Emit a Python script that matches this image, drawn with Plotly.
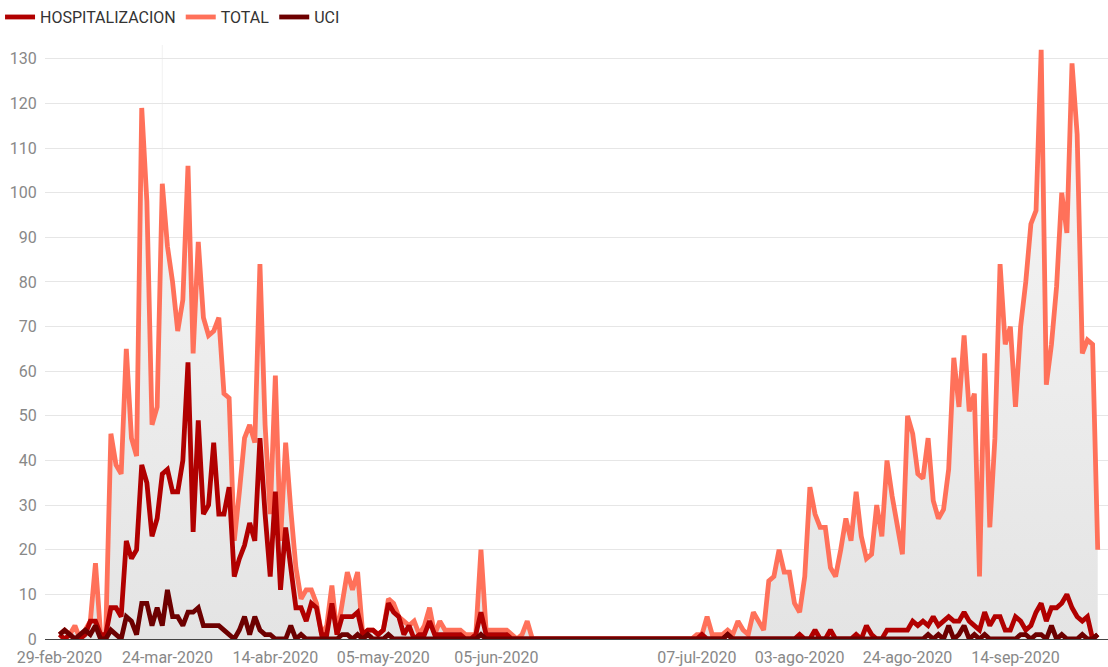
import plotly.graph_objects as go

# Daily rows (index = report row)
TOTAL = [
    1, 2, 1, 3, 0, 2, 4, 17, 1, 1,
    46, 39, 37, 65, 45, 41, 119, 98, 48, 52,
    102, 88, 80, 69, 76, 106, 64, 89, 72, 68,
    69, 72, 55, 54, 22, 33, 45, 48, 44, 84,
    48, 28, 59, 22, 44, 29, 16, 9, 11, 11,
    8, 1, 3, 12, 1, 8, 15, 11, 15, 1,
    2, 2, 1, 2, 9, 8, 5, 4, 3, 4,
    1, 3, 7, 1, 4, 2, 2, 2, 2, 1,
    1, 1, 20, 2, 2, 2, 2, 2, 1, 0,
    1, 4, 0, 0, 0, 0, 0, 0, 0, 0,
    0, 0, 0, 0, 0, 0, 0, 0, 0, 0,
    0, 0, 0, 0, 0, 0, 0, 0, 0, 0,
    0, 0, 0, 0, 1, 1, 5, 1, 1, 1,
    2, 1, 4, 2, 1, 6, 4, 2, 13, 14,
    20, 15, 15, 8, 6, 14, 34, 28, 25, 25,
    16, 14, 20, 27, 22, 33, 23, 18, 19, 30,
    23, 40, 32, 25, 19, 50, 46, 37, 36, 45,
    31, 27, 29, 38, 63, 52, 68, 51, 55, 14,
    64, 25, 45, 84, 66, 70, 52, 70, 80, 93,
    96, 132, 57, 66, 79, 100, 91, 129, 113, 64,
    67, 66, 20,
]

HOSPITALIZACION = [
    1, 0, 1, 0, 0, 1, 4, 4, 1, 1,
    7, 7, 5, 22, 18, 20, 39, 35, 23, 27,
    37, 38, 33, 33, 40, 62, 24, 49, 28, 30,
    44, 28, 28, 34, 14, 18, 21, 26, 22, 45,
    28, 14, 33, 11, 25, 15, 7, 7, 4, 8,
    7, 1, 1, 8, 1, 5, 5, 5, 6, 1,
    2, 2, 1, 2, 8, 6, 5, 1, 3, 0,
    1, 1, 4, 1, 1, 1, 1, 1, 1, 0,
    0, 1, 6, 1, 1, 1, 1, 1, 0, 0,
    0, 0, 0, 0, 0, 0, 0, 0, 0, 0,
    0, 0, 0, 0, 0, 0, 0, 0, 0, 0,
    0, 0, 0, 0, 0, 0, 0, 0, 0, 0,
    0, 0, 0, 0, 0, 1, 0, 0, 0, 0,
    1, 0, 0, 0, 0, 0, 0, 0, 0, 0,
    0, 0, 0, 0, 1, 0, 0, 2, 0, 0,
    2, 0, 0, 0, 0, 1, 0, 3, 1, 0,
    0, 2, 2, 2, 2, 2, 4, 3, 4, 3,
    5, 3, 4, 5, 4, 4, 6, 4, 3, 2,
    6, 3, 5, 5, 2, 2, 5, 4, 2, 3,
    6, 8, 4, 7, 7, 8, 10, 7, 5, 4,
    5, 0, 1,
]

UCI = [
    1, 2, 1, 0, 1, 2, 1, 3, 0, 0,
    2, 1, 0, 5, 4, 1, 8, 8, 3, 7,
    3, 11, 5, 5, 3, 6, 6, 7, 3, 3,
    3, 3, 2, 1, 0, 2, 5, 1, 5, 2,
    1, 1, 0, 0, 0, 3, 0, 1, 0, 0,
    0, 0, 0, 0, 0, 1, 1, 0, 1, 0,
    1, 0, 0, 0, 1, 0, 0, 0, 0, 0,
    0, 0, 0, 0, 0, 0, 0, 0, 0, 0,
    0, 0, 1, 0, 0, 0, 0, 0, 0, 0,
    0, 0, 0, 0, 0, 0, 0, 0, 0, 0,
    0, 0, 0, 0, 0, 0, 0, 0, 0, 0,
    0, 0, 0, 0, 0, 0, 0, 0, 0, 0,
    0, 0, 0, 0, 0, 0, 0, 0, 0, 0,
    1, 0, 0, 0, 0, 0, 0, 0, 0, 0,
    0, 0, 0, 0, 0, 0, 0, 0, 0, 0,
    0, 0, 0, 0, 0, 0, 0, 0, 0, 0,
    0, 0, 0, 0, 0, 0, 0, 0, 0, 1,
    0, 1, 0, 3, 0, 1, 3, 0, 1, 0,
    1, 0, 0, 0, 0, 0, 0, 1, 1, 0,
    1, 1, 0, 3, 0, 1, 0, 0, 0, 1,
    0, 0, 1,
]

ROWS = list(range(len(TOTAL)))

# x-axis labels and the row each one sits on
TICK_ROWS = [0, 21, 42, 63, 85, 124, 144, 165, 186]
TICK_LABELS = ["29-feb-2020", "24-mar-2020", "14-abr-2020", "05-may-2020",
               "05-jun-2020", "07-jul-2020", "03-ago-2020", "24-ago-2020",
               "14-sep-2020"]
HIGHLIGHT_ROW = 20

C_TOTAL = "#ff715a"
C_HOSP = "#b10000"
C_UCI = "#6d0000"
LW = 4.8
FONT = "Roboto, 'Open Sans', sans-serif"

fig = go.Figure()
# grey area under TOTAL (kept out of the legend)
fig.add_trace(go.Scatter(
    x=ROWS, y=TOTAL, mode="lines", line=dict(width=0, color="rgba(0,0,0,0)"),
    fill="tozeroy",
    fillgradient=dict(type="vertical",
                      colorscale=[[0, "rgb(228,228,228)"], [1, "rgb(247,247,247)"]]),
    showlegend=False, hoverinfo="skip",
))
fig.add_trace(go.Scatter(
    x=ROWS, y=TOTAL, name="TOTAL", mode="lines",
    line=dict(color=C_TOTAL, width=LW), legendrank=2,
))
fig.add_trace(go.Scatter(
    x=ROWS, y=HOSPITALIZACION, name="HOSPITALIZACION", mode="lines",
    line=dict(color=C_HOSP, width=LW), legendrank=1,
))
fig.add_trace(go.Scatter(
    x=ROWS, y=UCI, name="UCI", mode="lines",
    line=dict(color=C_UCI, width=LW), legendrank=3,
))

fig.add_shape(type="line", xref="x", yref="paper", x0=HIGHLIGHT_ROW, x1=HIGHLIGHT_ROW,
              y0=0, y1=1, line=dict(color="rgba(0,0,0,0.06)", width=1), layer="below")

fig.update_layout(
    width=1108, height=667,
    margin=dict(l=45, r=0, t=45, b=26),
    paper_bgcolor="white", plot_bgcolor="white",
    font=dict(family=FONT, size=16, color="#888888"),
    showlegend=True,
    legend=dict(orientation="h", x=-0.0423, xanchor="left", y=1.047, yanchor="middle",
                font=dict(size=16, color="#333333"), itemwidth=30,
                traceorder="normal", tracegroupgap=0, bgcolor="rgba(0,0,0,0)"),
    xaxis=dict(
        range=[-2.82, 204.0],
        tickmode="array", tickvals=TICK_ROWS, ticktext=TICK_LABELS,
        showgrid=False, zeroline=False, showline=False,
        ticks="outside", ticklen=4, tickcolor="rgba(0,0,0,0)",
        tickfont=dict(size=16, color="#888888"),
    ),
    yaxis=dict(
        range=[0, 133.1], tickmode="linear", tick0=0, dtick=10,
        showgrid=True, gridcolor="#e6e6e6", gridwidth=1,
        zeroline=True, zerolinecolor="#444444", zerolinewidth=1,
        showline=False, ticks="outside", ticklen=4, tickcolor="rgba(0,0,0,0)",
        tickfont=dict(size=16, color="#888888"),
    ),
)

fig.write_html(
    "out.html",
    config={"displayModeBar": False},
    post_script="document.body.style.margin='0';document.body.style.padding='0';",
)
